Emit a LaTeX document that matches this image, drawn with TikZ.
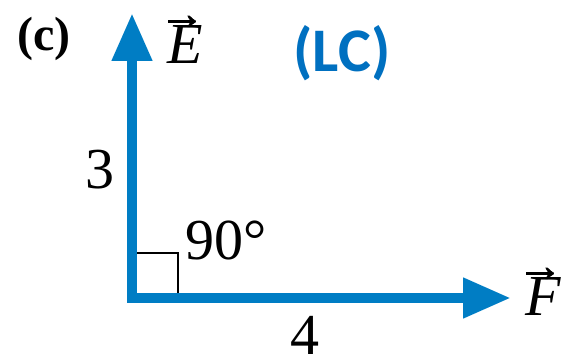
\documentclass[tikz,border=0pt]{standalone}
\usepackage{amsmath}
\usepackage{fontspec}
\setmainfont{Liberation Serif}
\newfontfamily\lcfont{Carlito}
\newfontfamily\arrfont[FakeBold=1.5]{Liberation Serif}
\usetikzlibrary{arrows.meta}
\definecolor{vecblue}{RGB}{0,125,196}
\definecolor{lcblue}{RGB}{0,112,192}
\newcommand{\vecsym}[1]{{\itshape #1}\llap{\raisebox{0.6em}{\fontsize{23}{23}\arrfont →}\hspace{-0.04em}}}
\tikzset{
  vec/.style={draw=vecblue, line width=5.3pt, line join=miter,
    arrows={Triangle[length=24pt,width=19pt]-Triangle[length=24pt,width=19pt]}},
  lbl/.style={font=\fontsize{29}{32}\selectfont, inner sep=0pt}
}
\begin{document}
\begin{tikzpicture}[x=0.5pt, y=-0.5pt]
    \useasboundingbox (0,0) rectangle (568,358);
    % Corner and tips
    \coordinate (O) at (132,298);
    \coordinate (Etip) at (132,13);
    \coordinate (Ftip) at (511,298);

    % Vectors E and F
    \draw[vec] (Etip) -- (O) -- (Ftip);

    % Right angle mark
    \draw[line width=0.8pt] (137,253) -- (178,253) -- (178,293);

    % Labels
    \node[lbl] (angle) at (226,240) {90\textdegree};
    \node[lbl] (three) at (100,170) {3};
    \node[lbl] (four) at (305,335) {4};
    \node[lbl] (Elabel) at (185,40) {\vecsym{E}};
    \node[lbl] (Flabel) at (543,292) {\vecsym{F}};
    \node[font=\fontsize{24}{26}\selectfont\bfseries, inner sep=0pt] (part) at (44,39) {(c)};
    \node[font=\fontsize{31}{34}\selectfont\lcfont\bfseries, text=lcblue, inner sep=0pt] (lc) at (342,53) {(LC)};
\end{tikzpicture}
\end{document}
